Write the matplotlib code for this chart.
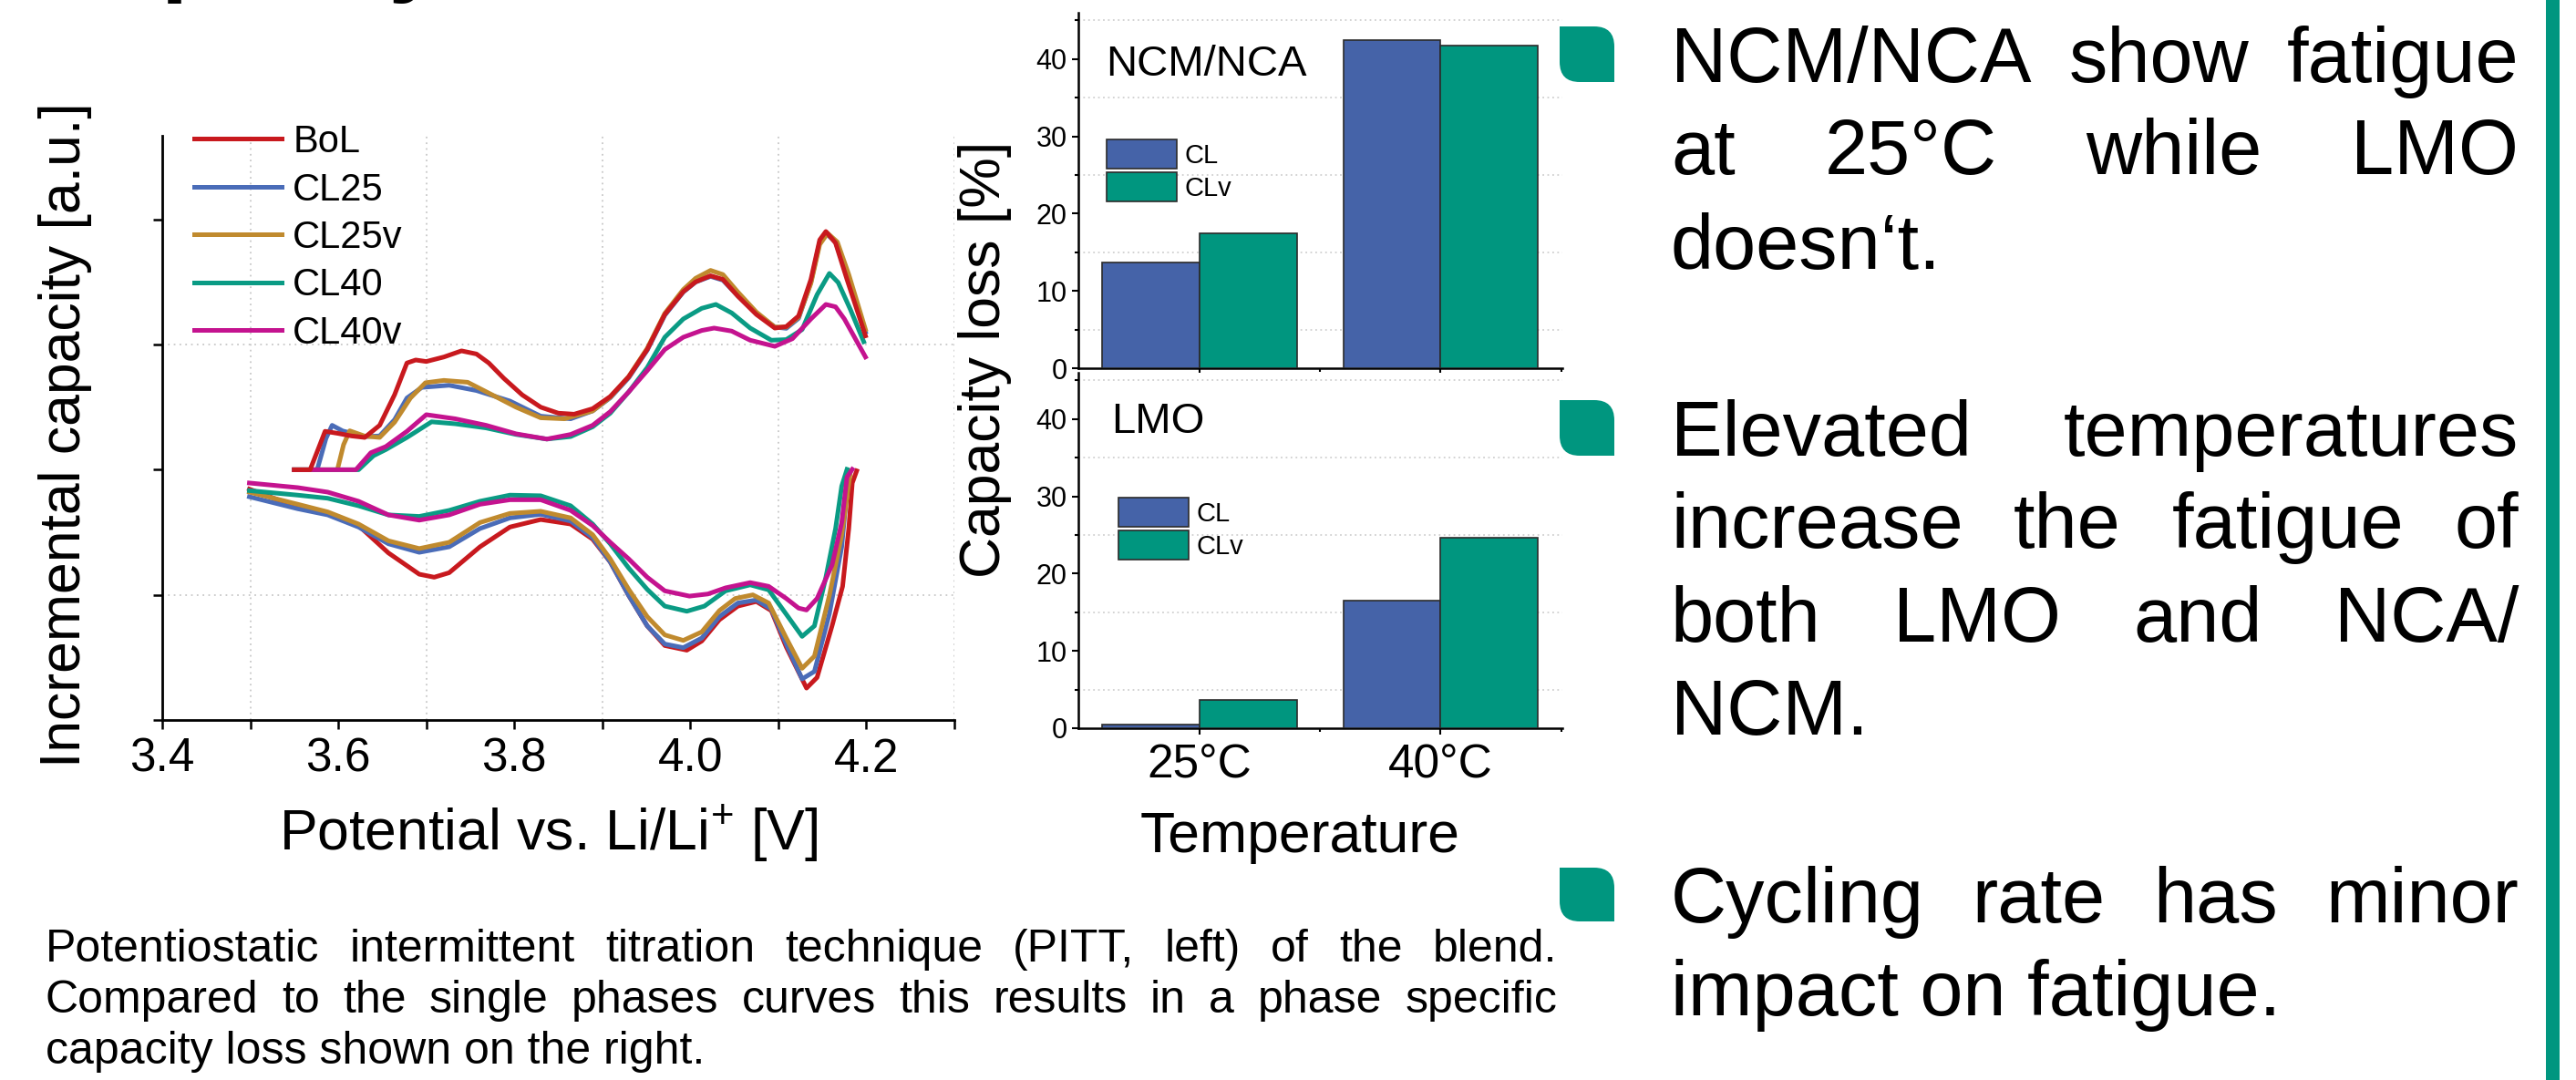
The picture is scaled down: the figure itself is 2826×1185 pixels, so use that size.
import matplotlib
matplotlib.use('Agg')
import numpy as np
import matplotlib.pyplot as plt
from matplotlib.path import Path
from matplotlib.patches import PathPatch, Rectangle
from matplotlib.ticker import FixedLocator

plt.rcParams['font.family'] = ['Liberation Sans', 'DejaVu Sans']
plt.rcParams['mathtext.fontset'] = 'custom'
plt.rcParams['mathtext.rm'] = 'Liberation Sans'
plt.rcParams['mathtext.it'] = 'Liberation Sans:italic'

W, H = 2826, 1185

# ---------------- PITT data (incremental capacity, a.u.) ----------------
# charge branch (upper)
bol_chg_v = [3.550, 3.568, 3.578, 3.585, 3.600, 3.615, 3.630, 3.647, 3.664, 3.678, 3.688, 3.700, 3.720,
             3.740, 3.757, 3.771, 3.788, 3.809, 3.830, 3.850, 3.868, 3.889, 3.909, 3.930, 3.951, 3.971,
             3.992, 4.006, 4.023, 4.037, 4.054, 4.075, 4.096, 4.109, 4.123, 4.137, 4.147, 4.154, 4.165,
             4.178, 4.199]
bol_chg_ic = [2.00, 2.00, 2.18, 2.307, 2.29, 2.27, 2.258, 2.355, 2.60, 2.853, 2.877, 2.865, 2.901,
              2.950, 2.925, 2.853, 2.731, 2.598, 2.50, 2.452, 2.444, 2.488, 2.585, 2.743, 2.961, 3.241,
              3.423, 3.501, 3.550, 3.521, 3.387, 3.241, 3.132, 3.144, 3.229, 3.521, 3.837, 3.904, 3.812,
              3.521, 3.070]
cl25_chg_v = [3.550, 3.576, 3.586, 3.593, 3.605, 3.630, 3.647, 3.664, 3.678, 3.695, 3.726, 3.757, 3.795,
              3.830, 3.864, 3.889, 3.909, 3.930, 3.951, 3.971, 3.992, 4.006, 4.023, 4.037, 4.054, 4.075,
              4.096, 4.109, 4.123, 4.137, 4.147, 4.154, 4.165, 4.178, 4.199]
cl25_chg_ic = [2.00, 2.00, 2.25, 2.355, 2.31, 2.265, 2.27, 2.40, 2.573, 2.658, 2.675, 2.633, 2.549,
               2.428, 2.407, 2.47, 2.575, 2.735, 2.955, 3.235, 3.42, 3.50, 3.545, 3.515, 3.39, 3.25,
               3.14, 3.13, 3.21, 3.50, 3.82, 3.89, 3.82, 3.55, 3.10]
cl25v_chg_v = [3.550, 3.599, 3.606, 3.613, 3.630, 3.647, 3.664, 3.682, 3.699, 3.720, 3.747, 3.775, 3.802,
               3.830, 3.857, 3.889, 3.909, 3.930, 3.951, 3.971, 3.992, 4.006, 4.023, 4.037, 4.054, 4.075,
               4.096, 4.109, 4.123, 4.137, 4.147, 4.156, 4.167, 4.180, 4.199]
cl25v_chg_ic = [2.00, 2.00, 2.20, 2.311, 2.269, 2.258, 2.380, 2.573, 2.695, 2.714, 2.699, 2.598, 2.50,
                2.415, 2.407, 2.47, 2.58, 2.745, 2.97, 3.25, 3.44, 3.53, 3.593, 3.56, 3.42, 3.26,
                3.14, 3.14, 3.22, 3.49, 3.80, 3.89, 3.82, 3.56, 3.12]
cl40_chg_v = [3.550, 3.623, 3.640, 3.654, 3.678, 3.706, 3.733, 3.768, 3.802, 3.837, 3.864, 3.889, 3.909,
              3.930, 3.951, 3.971, 3.992, 4.013, 4.029, 4.047, 4.068, 4.092, 4.109, 4.127, 4.144, 4.158,
              4.168, 4.182, 4.197]
cl40_chg_ic = [2.00, 2.00, 2.112, 2.161, 2.258, 2.383, 2.367, 2.334, 2.282, 2.245, 2.265, 2.343, 2.452,
               2.622, 2.816, 3.059, 3.205, 3.290, 3.321, 3.253, 3.132, 3.035, 3.040, 3.120, 3.399, 3.569,
               3.496, 3.278, 3.023]
cl40v_chg_v = [3.550, 3.620, 3.637, 3.654, 3.678, 3.700, 3.733, 3.768, 3.802, 3.837, 3.864, 3.889, 3.909,
               3.930, 3.951, 3.971, 3.992, 4.013, 4.027, 4.047, 4.068, 4.096, 4.116, 4.137, 4.154, 4.165,
               4.175, 4.199]
cl40v_chg_ic = [2.00, 2.00, 2.136, 2.185, 2.307, 2.440, 2.407, 2.355, 2.287, 2.245, 2.282, 2.355, 2.464,
                2.622, 2.792, 2.961, 3.059, 3.113, 3.132, 3.108, 3.035, 2.986, 3.047, 3.205, 3.321, 3.302,
                3.205, 2.901]

# discharge branch (lower)
bol_dis_v = [3.499, 3.554, 3.588, 3.623, 3.657, 3.692, 3.709, 3.726, 3.761, 3.795, 3.830, 3.864, 3.889,
             3.909, 3.930, 3.951, 3.971, 3.996, 4.013, 4.033, 4.054, 4.075, 4.092, 4.109, 4.132, 4.144,
             4.161, 4.173, 4.180, 4.184, 4.189]
bol_dis_ic = [1.845, 1.700, 1.651, 1.554, 1.335, 1.165, 1.141, 1.177, 1.384, 1.542, 1.602, 1.566, 1.445,
              1.263, 0.995, 0.752, 0.595, 0.558, 0.631, 0.801, 0.910, 0.947, 0.874, 0.583, 0.255, 0.340,
              0.752, 1.068, 1.529, 1.894, 1.991]
cl25_dis_v = [3.499, 3.554, 3.588, 3.623, 3.657, 3.692, 3.726, 3.761, 3.795, 3.830, 3.864, 3.889, 3.909,
              3.930, 3.951, 3.971, 3.992, 4.013, 4.033, 4.054, 4.075, 4.092, 4.109, 4.127, 4.141, 4.158,
              4.172, 4.180]
cl25_dis_ic = [1.784, 1.688, 1.639, 1.542, 1.408, 1.340, 1.384, 1.530, 1.615, 1.644, 1.590, 1.457, 1.263,
               0.995, 0.752, 0.607, 0.578, 0.655, 0.826, 0.935, 0.959, 0.886, 0.607, 0.328, 0.388, 0.850,
               1.384, 1.991]
cl25v_dis_v = [3.499, 3.554, 3.588, 3.623, 3.657, 3.692, 3.726, 3.761, 3.795, 3.830, 3.864, 3.889, 3.909,
               3.930, 3.951, 3.971, 3.992, 4.013, 4.033, 4.051, 4.071, 4.089, 4.109, 4.127, 4.141, 4.158,
               4.172, 4.182]
cl25v_dis_ic = [1.821, 1.724, 1.663, 1.566, 1.432, 1.370, 1.420, 1.578, 1.651, 1.668, 1.615, 1.481, 1.287,
                1.044, 0.826, 0.680, 0.636, 0.704, 0.874, 0.971, 1.000, 0.935, 0.655, 0.413, 0.510, 0.995,
                1.481, 1.991]
cl40_dis_v = [3.499, 3.554, 3.588, 3.623, 3.657, 3.692, 3.726, 3.761, 3.795, 3.830, 3.864, 3.889, 3.909,
              3.930, 3.951, 3.971, 3.996, 4.016, 4.040, 4.068, 4.089, 4.109, 4.127, 4.141, 4.154, 4.165,
              4.172, 4.178]
cl40_dis_ic = [1.833, 1.797, 1.772, 1.712, 1.639, 1.627, 1.675, 1.748, 1.797, 1.792, 1.712, 1.566, 1.408,
               1.214, 1.044, 0.910, 0.869, 0.910, 1.032, 1.080, 1.040, 0.845, 0.668, 0.752, 1.141, 1.529,
               1.869, 2.003]
cl40v_dis_v = [3.499, 3.554, 3.588, 3.623, 3.657, 3.692, 3.726, 3.761, 3.795, 3.830, 3.864, 3.889, 3.909,
               3.930, 3.951, 3.971, 3.999, 4.020, 4.040, 4.068, 4.089, 4.109, 4.123, 4.132, 4.144, 4.161,
               4.172, 4.178, 4.184]
cl40v_dis_ic = [1.894, 1.857, 1.821, 1.748, 1.639, 1.597, 1.639, 1.724, 1.760, 1.760, 1.675, 1.554, 1.420,
                1.287, 1.141, 1.032, 0.990, 1.007, 1.056, 1.098, 1.068, 0.971, 0.894, 0.879, 0.971, 1.238,
                1.578, 1.942, 2.003]

series_names = ['BoL', 'CL25', 'CL25v', 'CL40', 'CL40v']
series_colors = ['#c8191e', '#4a6cb8', '#c08a2e', '#0a9b84', '#c4138f']

# ---------------- capacity loss bars [%] ----------------
temps = ['25°C', '40°C']
ncm_cl = [13.7, 42.5]
ncm_clv = [17.5, 41.8]
lmo_cl = [0.5, 16.5]
lmo_clv = [3.6, 24.6]

teal = '#00967f'
blue = '#4563a8'


def fx(x):
    return x / W


def fy(y):
    return 1 - y / H


def rect(x0, y0, x1, y1):
    return [x0 / W, 1 - y1 / H, (x1 - x0) / W, (y1 - y0) / H]


fig = plt.figure(figsize=(W / 100, H / 100), dpi=100)
renderer = fig.canvas.get_renderer()

# ---------------- left: PITT ----------------
ax = fig.add_axes(rect(178, 149, 1047, 790))
chg = [(bol_chg_v, bol_chg_ic), (cl25_chg_v, cl25_chg_ic), (cl25v_chg_v, cl25v_chg_ic),
       (cl40_chg_v, cl40_chg_ic), (cl40v_chg_v, cl40v_chg_ic)]
dis = [(bol_dis_v, bol_dis_ic), (cl25_dis_v, cl25_dis_ic), (cl25v_dis_v, cl25v_dis_ic),
       (cl40_dis_v, cl40_dis_ic), (cl40v_dis_v, cl40v_dis_ic)]
handles = []
for i in range(5):
    # BoL on top in the charge branch
    z_chg = 10 if i == 0 else 3 + i
    h, = ax.plot(dis[i][0], dis[i][1], color=series_colors[i], lw=3.6, zorder=3 + i,
                 solid_joinstyle='round', label=series_names[i])
    ax.plot(chg[i][0], chg[i][1], color=series_colors[i], lw=3.6, zorder=z_chg, solid_joinstyle='round')
    handles.append(h)

ax.set_xlim(3.4, 4.3)
ax.set_ylim(0, (790 - 149) / 137.3)
ax.set_xticks([3.4, 3.6, 3.8, 4.0, 4.2])
ax.set_xticklabels(['3.4', '3.6', '3.8', '4.0', '4.2'])
ax.xaxis.set_minor_locator(FixedLocator([3.5, 3.7, 3.9, 4.1, 4.3]))
ax.set_yticks([0, 2, 4])
ax.set_yticklabels([])
ax.yaxis.set_minor_locator(FixedLocator([1, 3]))
ax.tick_params(which='both', direction='out', width=1.8, length=7.5, labelsize=37, pad=6)
ax.grid(True, which='minor', color='#c8c8c8', lw=1.3, linestyle=(0, (1, 2.5)))
for s in ['top', 'right']:
    ax.spines[s].set_visible(False)
for s in ['left', 'bottom']:
    ax.spines[s].set_linewidth(2.0)
ax.legend(handles=handles, loc='upper left', bbox_to_anchor=(fx(213), fy(136)),
          bbox_transform=fig.transFigure, frameon=False, fontsize=30, handlelength=2.3,
          handletextpad=0.3, labelspacing=0.30, borderpad=0, borderaxespad=0)

fig.text(fx(72), fy(477), 'Incremental capacity [a.u.]', rotation=90, ha='center', va='center', fontsize=45)
fig.text(fx(602), fy(933), 'Potential vs. Li/Li$^{+}$ [V]', ha='center', va='baseline', fontsize=45)

# ---------------- middle: capacity loss bars ----------------
bw = 0.403
x = np.arange(len(temps))


def bar_panel(box, cl, clv, title, tx, ty, leg_xy, show_labels):
    a = fig.add_axes(rect(*box))
    b1 = a.bar(x - bw / 2, cl, bw, color=blue, edgecolor='#2b2b2b', lw=1.2, label='CL', zorder=3)
    b2 = a.bar(x + bw / 2, clv, bw, color=teal, edgecolor='#2b2b2b', lw=1.2, label='CLv', zorder=3)
    a.set_xlim(-0.503, 1.505)
    a.set_ylim(0, 46)
    a.set_xticks(x)
    a.xaxis.set_minor_locator(FixedLocator([0.5, 1.5]))
    if show_labels:
        a.set_xticklabels(temps)
    else:
        a.set_xticklabels([])
    a.set_yticks([0, 10, 20, 30, 40])
    a.yaxis.set_minor_locator(FixedLocator([5, 15, 25, 35, 45]))
    a.tick_params(which='major', direction='out', width=1.5, length=5, labelsize=22, pad=4)
    a.tick_params(axis='x', which='major', labelsize=37, pad=7)
    a.tick_params(which='minor', direction='out', width=1.5, length=3)
    a.yaxis.grid(True, which='minor', color='#d0d0d0', lw=1.3, linestyle=(0, (1, 2)))
    a.set_axisbelow(True)
    for s in ['top', 'right']:
        a.spines[s].set_visible(False)
    for s in ['left', 'bottom']:
        a.spines[s].set_linewidth(1.8)
    a.legend(handles=[b1, b2], loc='upper left', bbox_to_anchor=(fx(leg_xy[0]), fy(leg_xy[1])),
             bbox_transform=fig.transFigure, frameon=False, fontsize=21, handlelength=2.64,
             handleheight=1.3, handletextpad=0.3, labelspacing=0.156, borderpad=0, borderaxespad=0)
    fig.text(fx(tx), fy(ty), title, ha='left', va='baseline', fontsize=34)
    return a


bar_panel((1183, 14, 1714, 404), ncm_cl, ncm_clv, 'NCM/NCA', 1213, 83, (1214, 153), False)
bar_panel((1183, 409, 1714, 799), lmo_cl, lmo_clv, 'LMO', 1219, 475, (1227, 546), True)

fig.text(fx(1081), fy(394), 'Capacity loss [%]', rotation=90, ha='center', va='center', fontsize=45)
fig.text(fx(1426), fy(935), 'Temperature', ha='center', va='baseline', fontsize=45)

# ---------------- texts ----------------
# heading cut off at the top edge (only descenders visible, as in the poster crop)
fig.text(fx(41), fy(-18), 'Capacity', ha='left', va='baseline', fontsize=77, fontweight='bold')


def text_line(line, x0, x1, ybase, size, justify):
    if not justify:
        fig.text(fx(x0), fy(ybase), line, ha='left', va='baseline', fontsize=size)
        return
    words = line.split()
    ts = [fig.text(fx(x0), fy(ybase), w, ha='left', va='baseline', fontsize=size) for w in words]
    widths = [t.get_window_extent(renderer).width for t in ts]
    gap = (x1 - x0 - sum(widths)) / (len(words) - 1)
    xp = x0
    for t, w in zip(ts, widths):
        t.set_x(fx(xp))
        xp += w + gap


def paragraph(lines, baselines, x0, x1, size):
    for k, (ln, yb) in enumerate(zip(lines, baselines)):
        text_line(ln, x0, x1, yb, size, k < len(lines) - 1)


caption = ['Potentiostatic intermittent titration technique (PITT, left) of the blend.',
           'Compared to the single phases curves this results in a phase specific',
           'capacity loss shown on the right.']
paragraph(caption, [1055, 1111, 1167], 50, 1708, 36)

para1 = ['NCM/NCA show fatigue', 'at 25°C while LMO', 'doesn‘t.']
para2 = ['Elevated temperatures', 'increase the fatigue of', 'both LMO and NCA/', 'NCM.']
para3 = ['Cycling rate has minor', 'impact on fatigue.']
paragraph(para1, [90, 191, 295], 1833, 2763, 61)
paragraph(para2, [500, 601, 704, 806], 1833, 2763, 61)
paragraph(para3, [1012, 1114], 1833, 2763, 61)


def bullet(x0, y0, x1, y1, r):
    pts = [(x0, y0), (x1 - r, y0), (x1, y0), (x1, y0 + r), (x1, y1), (x0 + r, y1), (x0, y1),
           (x0, y1 - r), (x0, y0)]
    codes = [Path.MOVETO, Path.LINETO, Path.CURVE3, Path.CURVE3, Path.LINETO, Path.LINETO,
             Path.CURVE3, Path.CURVE3, Path.CLOSEPOLY]
    verts = [(fx(px), fy(py)) for px, py in pts]
    fig.add_artist(PathPatch(Path(verts, codes), facecolor=teal, edgecolor='none',
                             transform=fig.transFigure))


for (bx0, by0, bx1, by1) in [(1711, 29, 1771, 90), (1711, 439, 1771, 500), (1711, 952, 1771, 1011)]:
    bullet(bx0, by0, bx1, by1, 22)

fig.add_artist(Rectangle((fx(2793), 0), 15 / W, 1, facecolor=teal, edgecolor='none',
                         transform=fig.transFigure))

fig.savefig('out.png', dpi=100)
